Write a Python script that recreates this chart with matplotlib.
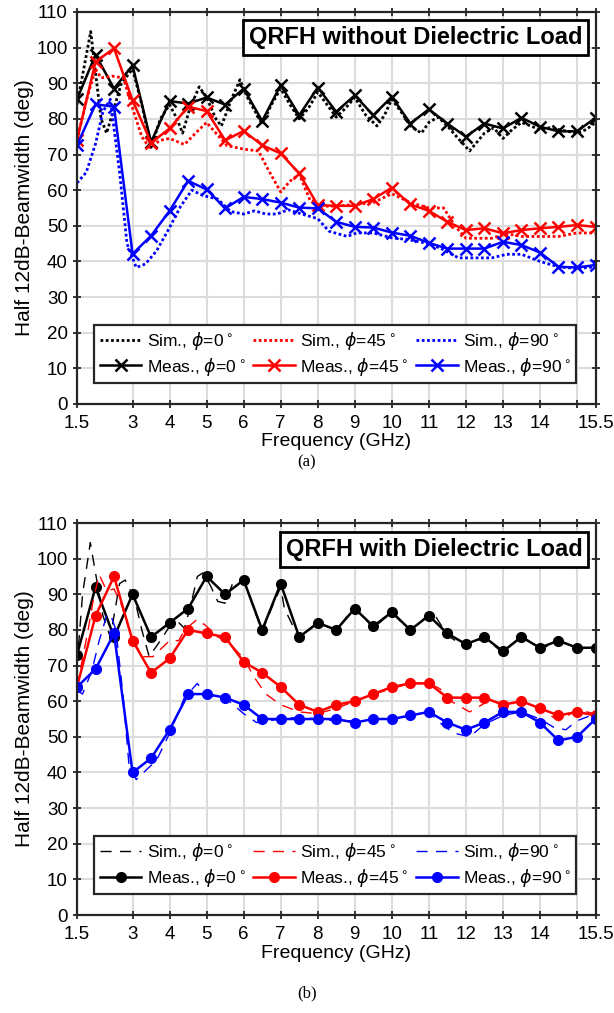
import numpy as np
import matplotlib
matplotlib.use("Agg")
import matplotlib.pyplot as plt

plt.rcParams['font.family'] = ['Liberation Sans', 'DejaVu Sans']
plt.rcParams['font.size'] = 12

# measured points, every 0.5 GHz
f_meas = np.arange(1.5, 15.51, 0.5)

# (a) without dielectric load
meas0_a = [85.5, 98, 88.5, 95, 73.5, 85, 84.3, 86, 84, 88.5, 79.4, 89.5, 81, 88.8, 82,
           86.6, 81, 86.2, 78.7, 82.7, 78.7, 75, 78.7, 77.3, 80.3, 77.8, 76.5, 76.5, 80.3]
meas45_a = [74, 96, 99.8, 85.2, 73.3, 77.3, 83.4, 82.2, 74, 76.6, 72.6, 70.3, 64.7, 55.8, 55.6,
            55.6, 57.5, 60.7, 56, 54.2, 51.1, 48.8, 49.3, 47.9, 48.8, 49.3, 49.7, 50.2, 49.7]
meas90_a = [72.6, 84.1, 83.4, 42.1, 47.2, 54.2, 62.6, 60.2, 54.9, 58.1, 57.5, 56.5, 55.1, 54.9, 51.1,
            49.7, 49.5, 48.1, 47.2, 45.2, 43.6, 43.6, 43.6, 45.5, 44.6, 42.5, 38.5, 38.3, 39]

sim0_a_f = [1.5, 1.7, 1.87, 2.0, 2.15, 2.3, 2.5, 2.7, 3.0, 3.25, 3.5, 3.75, 4.0, 4.2, 4.35, 4.55,
            4.8, 5.0, 5.25, 5.4, 5.65, 5.9, 6.1, 6.5, 6.75, 7.0, 7.25, 7.5, 7.75, 8.0, 8.25, 8.5,
            8.75, 9.0, 9.3, 9.6, 9.8, 10.0, 10.25, 10.5, 10.8, 11.0, 11.25, 11.5, 11.75, 12.1,
            12.5, 12.75, 13.0, 13.25, 13.5, 13.75, 14.0, 14.25, 14.5, 15.0, 15.25, 15.5]
sim0_a = [84, 95, 104.5, 93, 80, 76, 83, 90, 94, 84, 72, 80, 84, 80, 76, 83,
          89, 86, 80, 78, 85, 91, 86, 78.5, 84, 88.5, 84, 80, 83, 87.5, 84, 80.5,
          83, 86, 81, 78, 81, 85.5, 82, 78, 76, 79, 80.5, 78, 75, 71,
          76, 77.5, 74.5, 77, 79, 78, 77, 77.5, 77, 76, 77, 79]

sim45_a_f = [1.5, 1.75, 2.0, 2.15, 2.45, 2.75, 3.0, 3.25, 3.45, 3.75, 4.0, 4.4, 4.75, 5.0, 5.25,
             5.55, 6.0, 6.4, 6.65, 7.0, 7.25, 7.5, 7.8, 8.0, 8.5, 9.0, 9.5, 10.0, 10.5, 11.0,
             11.4, 11.7, 12.0, 12.7, 13.0, 13.3, 13.5, 14.0, 14.5, 15.0, 15.5]
sim45_a = [74, 85, 94, 91.5, 92, 91.5, 83, 75, 72, 74, 74.5, 72.8, 76.5, 79, 76,
           72.5, 71.5, 71, 66, 59.5, 62.5, 64.5, 57, 55.5, 55.5, 56, 56.5, 59, 56.5, 55,
           55, 50, 46.5, 46.5, 47.5, 47.5, 47, 47, 47, 48, 48]

sim90_a_f = [1.5, 1.75, 2.0, 2.2, 2.4, 2.65, 2.85, 3.1, 3.35, 3.65, 4.0, 4.3, 4.6, 4.9, 5.3,
             5.65, 6.0, 6.3, 6.6, 6.9, 7.2, 7.6, 8.0, 8.3, 8.8, 9.05, 9.5, 10.0, 10.4, 10.9,
             11.3, 11.8, 12.7, 13.1, 13.5, 14.0, 14.5, 15.0, 15.5]
sim90_a = [62, 65, 73, 82, 85.5, 65, 45, 38.3, 39.3, 43, 49.5, 55.5, 60, 58.5, 57.5,
           54, 53.3, 54.2, 53.3, 53.3, 54.5, 53.2, 52, 48.5, 47, 48, 48, 46.6, 46.2, 45.2,
           43.8, 41, 41, 42, 42, 40, 38.5, 38, 38.5]

# (b) with dielectric load
meas0_b = [73, 92, 78, 90, 78, 82, 86, 95, 90, 94, 80, 93, 78, 82, 80,
           86, 81, 85, 80, 84, 79, 76, 78, 74, 78, 75, 77, 75, 75]
meas45_b = [64, 84, 95, 77, 68, 72, 80, 79, 78, 71, 68, 64, 59, 57, 59,
            60, 62, 64, 65, 65, 61, 61, 61, 59, 60, 58, 56, 57, 56]
meas90_b = [64, 69, 79, 40, 44, 52, 62, 62, 61, 59, 55, 55, 55, 55, 55,
            54, 55, 55, 56, 57, 54, 52, 54, 57, 57, 54, 49, 50, 55]

sim0_b_f = [1.5, 1.65, 1.86, 1.95, 2.2, 2.4, 2.65, 2.8, 3.05, 3.25, 3.45, 3.75, 4.0, 4.25, 4.4,
            4.55, 4.75, 4.9, 5.1, 5.3, 5.5, 5.7, 6.0, 6.5, 6.75, 7.0, 7.1, 7.5, 8.0, 8.5, 9.0,
            9.5, 10.0, 10.5, 11.0, 11.2, 11.5, 12.0, 12.5, 13.0, 13.5, 14.0, 14.5, 15.0, 15.5]
sim0_b = [70, 90, 104.5, 99, 84, 78, 93, 94, 89, 80, 72.5, 77, 81, 82, 80.5,
          86, 95, 96, 92.5, 88, 87.5, 93, 94, 79.5, 86, 92, 86, 77.5, 82, 80, 86.5,
          80.5, 85, 79.5, 84.5, 83.5, 78.5, 75, 78, 73.5, 78.5, 74.5, 77, 74.5, 75]

sim45_b_f = [1.5, 1.8, 1.95, 2.1, 2.3, 2.5, 2.7, 3.0, 3.3, 3.55, 3.8, 4.0, 4.25, 4.4, 4.75, 5.0,
             5.3, 5.55, 6.0, 6.3, 6.6, 7.0, 7.5, 8.0, 8.5, 9.0, 9.5, 10.0, 10.5, 11.0, 11.3,
             11.6, 12.1, 12.6, 13.0, 13.5, 14.0, 14.5, 15.0, 15.5]
sim45_b = [64, 80, 89, 95.5, 91, 91.5, 87, 77, 72.5, 72.5, 75, 77, 77, 80, 83, 81,
           78, 77, 72, 66.5, 62, 59, 57, 56.5, 58, 60, 62, 63.5, 65, 65, 63.5,
           60, 57, 60, 59.5, 60, 58, 54.5, 57.5, 56.5]

sim90_b_f = [1.5, 1.65, 1.9, 2.1, 2.3, 2.4, 2.55, 2.75, 2.9, 3.1, 3.35, 3.65, 4.0, 4.4, 4.75,
             5.0, 5.5, 6.0, 6.35, 7.0, 7.5, 8.0, 8.5, 9.0, 9.5, 10.0, 10.5, 11.0, 11.4, 11.7,
             12.1, 12.5, 13.0, 13.5, 14.0, 14.4, 14.7, 15.0, 15.5]
sim90_b = [63, 62, 68.5, 77, 84, 84.5, 80, 61, 42.5, 38, 40.5, 43.5, 51, 61, 65,
           61.5, 61, 56.5, 54, 55, 55.5, 55, 54.5, 54.5, 55, 55, 56, 57, 53, 51,
           50, 53.5, 56, 57, 55, 52.5, 52, 54.5, 56.5]

xticks = [1.5, 3, 4, 5, 6, 7, 8, 9, 10, 11, 12, 13, 14, 15, 15.5]
xtick_labels = ['1.5', '3', '4', '5', '6', '7', '8', '9', '10', '11', '12', '13', '14', '', '15.5']
colors = ['black', 'red', 'blue']
phis = ['0', '45', '90']

fig = plt.figure(figsize=(6.14, 10.13), dpi=100)
ax1 = fig.add_axes([0.1254, 0.6012, 0.8445, 0.387])
ax2 = fig.add_axes([0.1254, 0.0967, 0.8445, 0.387])


def setup(ax):
    ax.set_xlim(1.5, 15.5)
    ax.set_ylim(0, 110)
    ax.set_xticks(xticks)
    ax.set_xticklabels(xtick_labels)
    ax.set_yticks(np.arange(0, 111, 10))
    ax.grid(True, color='#dcdcdc', lw=1.5)
    ax.set_axisbelow(True)
    ax.tick_params(direction='inout', length=6, width=1.3, top=True, right=True,
                   labelsize=13.5, color='#262626')
    ax.tick_params(axis='x', pad=5)
    for s in ax.spines.values():
        s.set_linewidth(1.6)
        s.set_color('#262626')
    ax.set_xlabel('Frequency (GHz)', fontsize=14, labelpad=1)
    ax.set_ylabel('Half 12dB-Beamwidth (deg)', fontsize=15, labelpad=2)


# panel (a)
sims_a = [(sim0_a_f, sim0_a), (sim45_a_f, sim45_a), (sim90_a_f, sim90_a)]
meas_a = [meas0_a, meas45_a, meas90_a]
for i in range(3):
    ax1.plot(sims_a[i][0], sims_a[i][1], color=colors[i], lw=2, ls=(0, (1, 0.9)),
             label=r'Sim., $\phi$=' + phis[i] + r'$\,^{\circ}$')
    ax1.plot(f_meas, meas_a[i], color=colors[i], lw=1.8, marker='x', ms=8, mew=1.8,
             label=r'Meas., $\phi$=' + phis[i] + r'$\,^{\circ}$')
setup(ax1)
ax1.text(0.975, 0.934, 'QRFH without Dielectric Load', transform=ax1.transAxes,
         ha='right', va='center', fontsize=17, fontweight='bold',
         bbox=dict(boxstyle='square,pad=0.25', fc='white', ec='black', lw=2))

# panel (b)
sims_b = [(sim0_b_f, sim0_b), (sim45_b_f, sim45_b), (sim90_b_f, sim90_b)]
meas_b = [meas0_b, meas45_b, meas90_b]
for i in range(3):
    ax2.plot(sims_b[i][0], sims_b[i][1], color=colors[i], lw=1, ls=(0, (8, 6)),
             label=r'Sim., $\phi$=' + phis[i] + r'$\,^{\circ}$')
    ax2.plot(f_meas, meas_b[i], color=colors[i], lw=1.8, marker='o', ms=7,
             label=r'Meas., $\phi$=' + phis[i] + r'$\,^{\circ}$')
setup(ax2)
ax2.text(0.975, 0.932, 'QRFH with Dielectric Load', transform=ax2.transAxes,
         ha='right', va='center', fontsize=17, fontweight='bold',
         bbox=dict(boxstyle='square,pad=0.25', fc='white', ec='black', lw=2))

for ax in (ax1, ax2):
    leg = ax.legend(ncol=3, loc='lower left', bbox_to_anchor=(0.017, 0.032, 0.963, 0.14),
                    mode='expand', fontsize=12.5, handlelength=2.4, handletextpad=0.3,
                    columnspacing=0.2, borderpad=0.3, labelspacing=0.2,
                    fancybox=False, framealpha=1, edgecolor='#262626')
    leg.get_frame().set_linewidth(1.6)

fig.text(0.5, 1 - 462 / 1013, '(a)', ha='center', va='center', family='Liberation Serif', fontsize=12)
fig.text(0.5, 1 - 993 / 1013, '(b)', ha='center', va='center', family='Liberation Serif', fontsize=12)

fig.savefig('out.png', dpi=100)
